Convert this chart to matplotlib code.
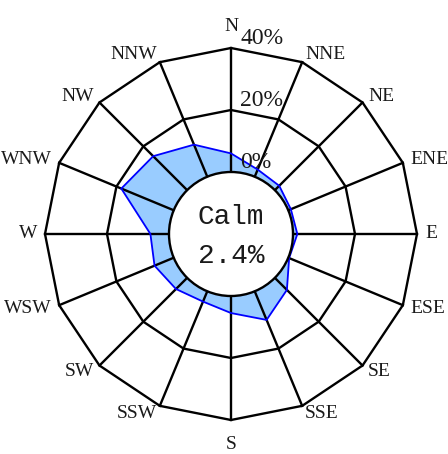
import numpy as np
import matplotlib
matplotlib.use("Agg")
import matplotlib.pyplot as plt
from matplotlib.patches import Circle, Polygon

# wind rose data (frequency in %)
directions = ["N", "NNE", "NE", "ENE", "E", "ESE", "SE", "SSE",
              "S", "SSW", "SW", "WSW", "W", "WNW", "NW", "NNW"]
freq = [6.0, 2.5, 2.0, 0.9, 1.4, 0.3, 5.5, 10.0,
        5.5, 3.6, 5.1, 6.7, 6.0, 18.3, 15.5, 11.2]
ring_values = [0, 20, 40]
calm = 2.4

# layout (in pixels, origin at rose centre)
r0 = 62.0     # radius of the calm circle (0%)
r_max = 186.0  # radius of the outer ring
cx, cy = 231, 234

fig = plt.figure(figsize=(4.48, 4.54), dpi=100)
ax = fig.add_axes([0, 0, 1, 1])
ax.set_xlim(-cx, 448 - cx)
ax.set_ylim(-(454 - cy), cy)
ax.axis("off")


def radius(v):
    return r0 + v / ring_values[-1] * (r_max - r0)


theta = np.arange(len(directions)) * 2 * np.pi / len(directions)
sx, sy = np.sin(theta), np.cos(theta)

# frequency polygon
r = np.array([radius(v) for v in freq])
pts = np.column_stack([r * sx, r * sy])
ax.add_patch(Polygon(pts, closed=True, facecolor="#99ccff", edgecolor="none", zorder=1))
ax.add_patch(Polygon(pts, closed=True, facecolor="none", edgecolor="#0000ff", lw=1.3, zorder=3))

# grid: polygon rings and spokes
for v in ring_values[1:]:
    rr = radius(v)
    ring = np.column_stack([rr * sx, rr * sy])
    ax.add_patch(Polygon(ring, closed=True, fill=False, edgecolor="black", lw=1.7, zorder=2))
for i in range(len(directions)):
    ax.plot([r0 * sx[i], r_max * sx[i]], [r0 * sy[i], r_max * sy[i]],
            color="black", lw=1.7, zorder=2)

# calm circle
ax.add_patch(Circle((0, 0), r0, facecolor="white", edgecolor="black", lw=1.7, zorder=4))
ax.text(0, 17, "Calm", ha="center", va="center", fontsize=20,
        family="Liberation Mono", color="#1a1a1a", zorder=5)
ax.text(0, -22, f"{calm}%", ha="center", va="center", fontsize=20,
        family="Liberation Mono", color="#1a1a1a", zorder=5)

# ring labels
for v in ring_values:
    ax.text(9, radius(v) - 1, f"{v}%", ha="left", va="bottom", fontsize=17,
            family="Liberation Serif", color="#1a1a1a", zorder=6)

# direction labels
for i, d in enumerate(directions):
    if abs(sx[i]) < 1e-6:
        if sy[i] > 0:
            ax.text(0, r_max + 13, d, ha="center", va="bottom", fontsize=14,
                    family="Liberation Serif", color="#1a1a1a")
        else:
            ax.text(0, -(r_max + 16), d, ha="center", va="top", fontsize=14,
                    family="Liberation Serif", color="#1a1a1a")
        continue
    rl = r_max + 8
    ha = "left" if sx[i] > 0 else "right"
    ax.text(rl * sx[i], rl * sy[i], d, ha=ha, va="center", fontsize=14,
            family="Liberation Serif", color="#1a1a1a")

fig.savefig("out.png", dpi=100)
